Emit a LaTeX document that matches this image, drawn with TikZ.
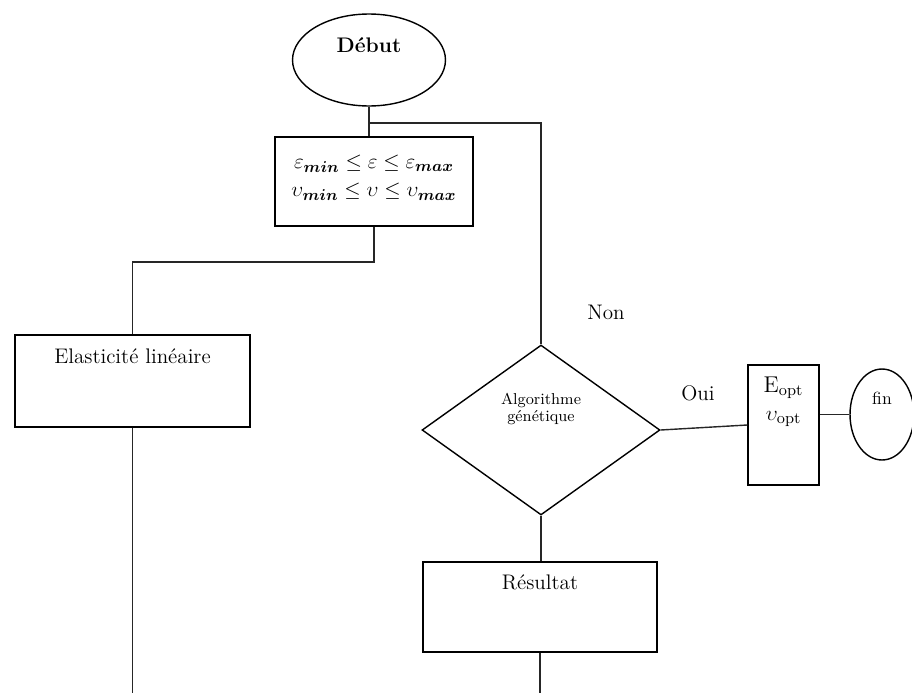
\documentclass[tikz,border=0pt]{standalone}
\usepackage{amsmath,amssymb,bm}
\usepackage{tikz}
\usetikzlibrary{shapes.geometric,positioning,calc}

\tikzset{
  boite/.style={draw, line width=0.8pt, minimum width=#1, inner sep=0pt},
  bord/.style={draw, ellipse, line width=0.8pt, inner sep=0pt},
  lien/.style={line width=0.8pt, draw=black!85},
  txt/.style={font=\fontsize{12}{14}\selectfont, inner sep=0pt}
}

\begin{document}
\begin{tikzpicture}[x=0.02cm, y=-0.02cm]
  \clip (0,0) rectangle (912,693);
  % blocs
  \node [bord, minimum width=3.06cm, minimum height=1.84cm] (debut) at (369,60) {};
  \node [boite=3.96cm, minimum height=1.78cm] (bornes) at (374,181.5) {};
  \node [boite=4.70cm, minimum height=1.84cm] (elast) at (132.5,381) {};
  \node [draw, diamond, line width=0.8pt, minimum width=4.76cm, minimum height=3.4cm, inner sep=0pt] (algo) at (541,430) {};
  \node [boite=1.42cm, minimum height=2.4cm] (opt) at (783.5,425) {};
  \node [bord, minimum width=1.28cm, minimum height=1.82cm] (fin) at (882,414.5) {};
  \node [boite=4.68cm, minimum height=1.8cm] (res) at (540,607) {};
  % textes
  \node [txt, font=\fontsize{12}{14}\selectfont\bfseries] (tdebut) at (369,45) {Début};
  \node [txt, font=\fontsize{13}{16}\selectfont, align=center] (tbornes) at (374,178) {$\varepsilon_{\bm{min}} \leq \varepsilon \leq \varepsilon_{\bm{max}}$\\[0pt]$\upsilon_{\bm{min}} \leq \upsilon \leq \upsilon_{\bm{max}}$};
  \node [txt] (telast) at (132.5,356) {Elasticité linéaire};
  \node [txt, font=\fontsize{9}{10}\selectfont, align=center] (talgo) at (541,409) {Algorithme\\génétique};
  \node [txt] (tnon) at (606,312) {Non};
  \node [txt] (toui) at (698,393) {Oui};
  \node [txt, font=\fontsize{13}{15}\selectfont, align=center] (topt) at (783.5,402) {E$_{\mathrm{opt}}$\\[1pt]$\upsilon_{\mathrm{opt}}$};
  \node [txt, font=\fontsize{10}{12}\selectfont] (tfin) at (882,398) {fin};
  \node [txt] (tres) at (540,582) {Résultat};
  % points libres
  \coordinate (jct) at (debut.south |- 0,123);
  \coordinate (coude) at (bornes.south |- 0,262);
  \coordinate (elastout) at (elast.south |- 0,693);
  \coordinate (resout) at (res.south |- 0,693);
  % liaisons
  \draw [lien] (debut.south) -- (debut.south |- bornes.north);
  \draw [lien] (jct) -| (algo.north);
  \draw [lien] (bornes.south) -- (coude) -| (elast.north);
  \draw [lien] (elast.south) -- (elastout);
  \draw [lien] (algo.east) -- (opt.west);
  \draw [lien] (fin.west -| opt.east) -- (fin.west);
  \draw [lien] (algo.south) -- (algo.south |- res.north);
  \draw [lien] (res.south) -- (resout);
\end{tikzpicture}
\end{document}
